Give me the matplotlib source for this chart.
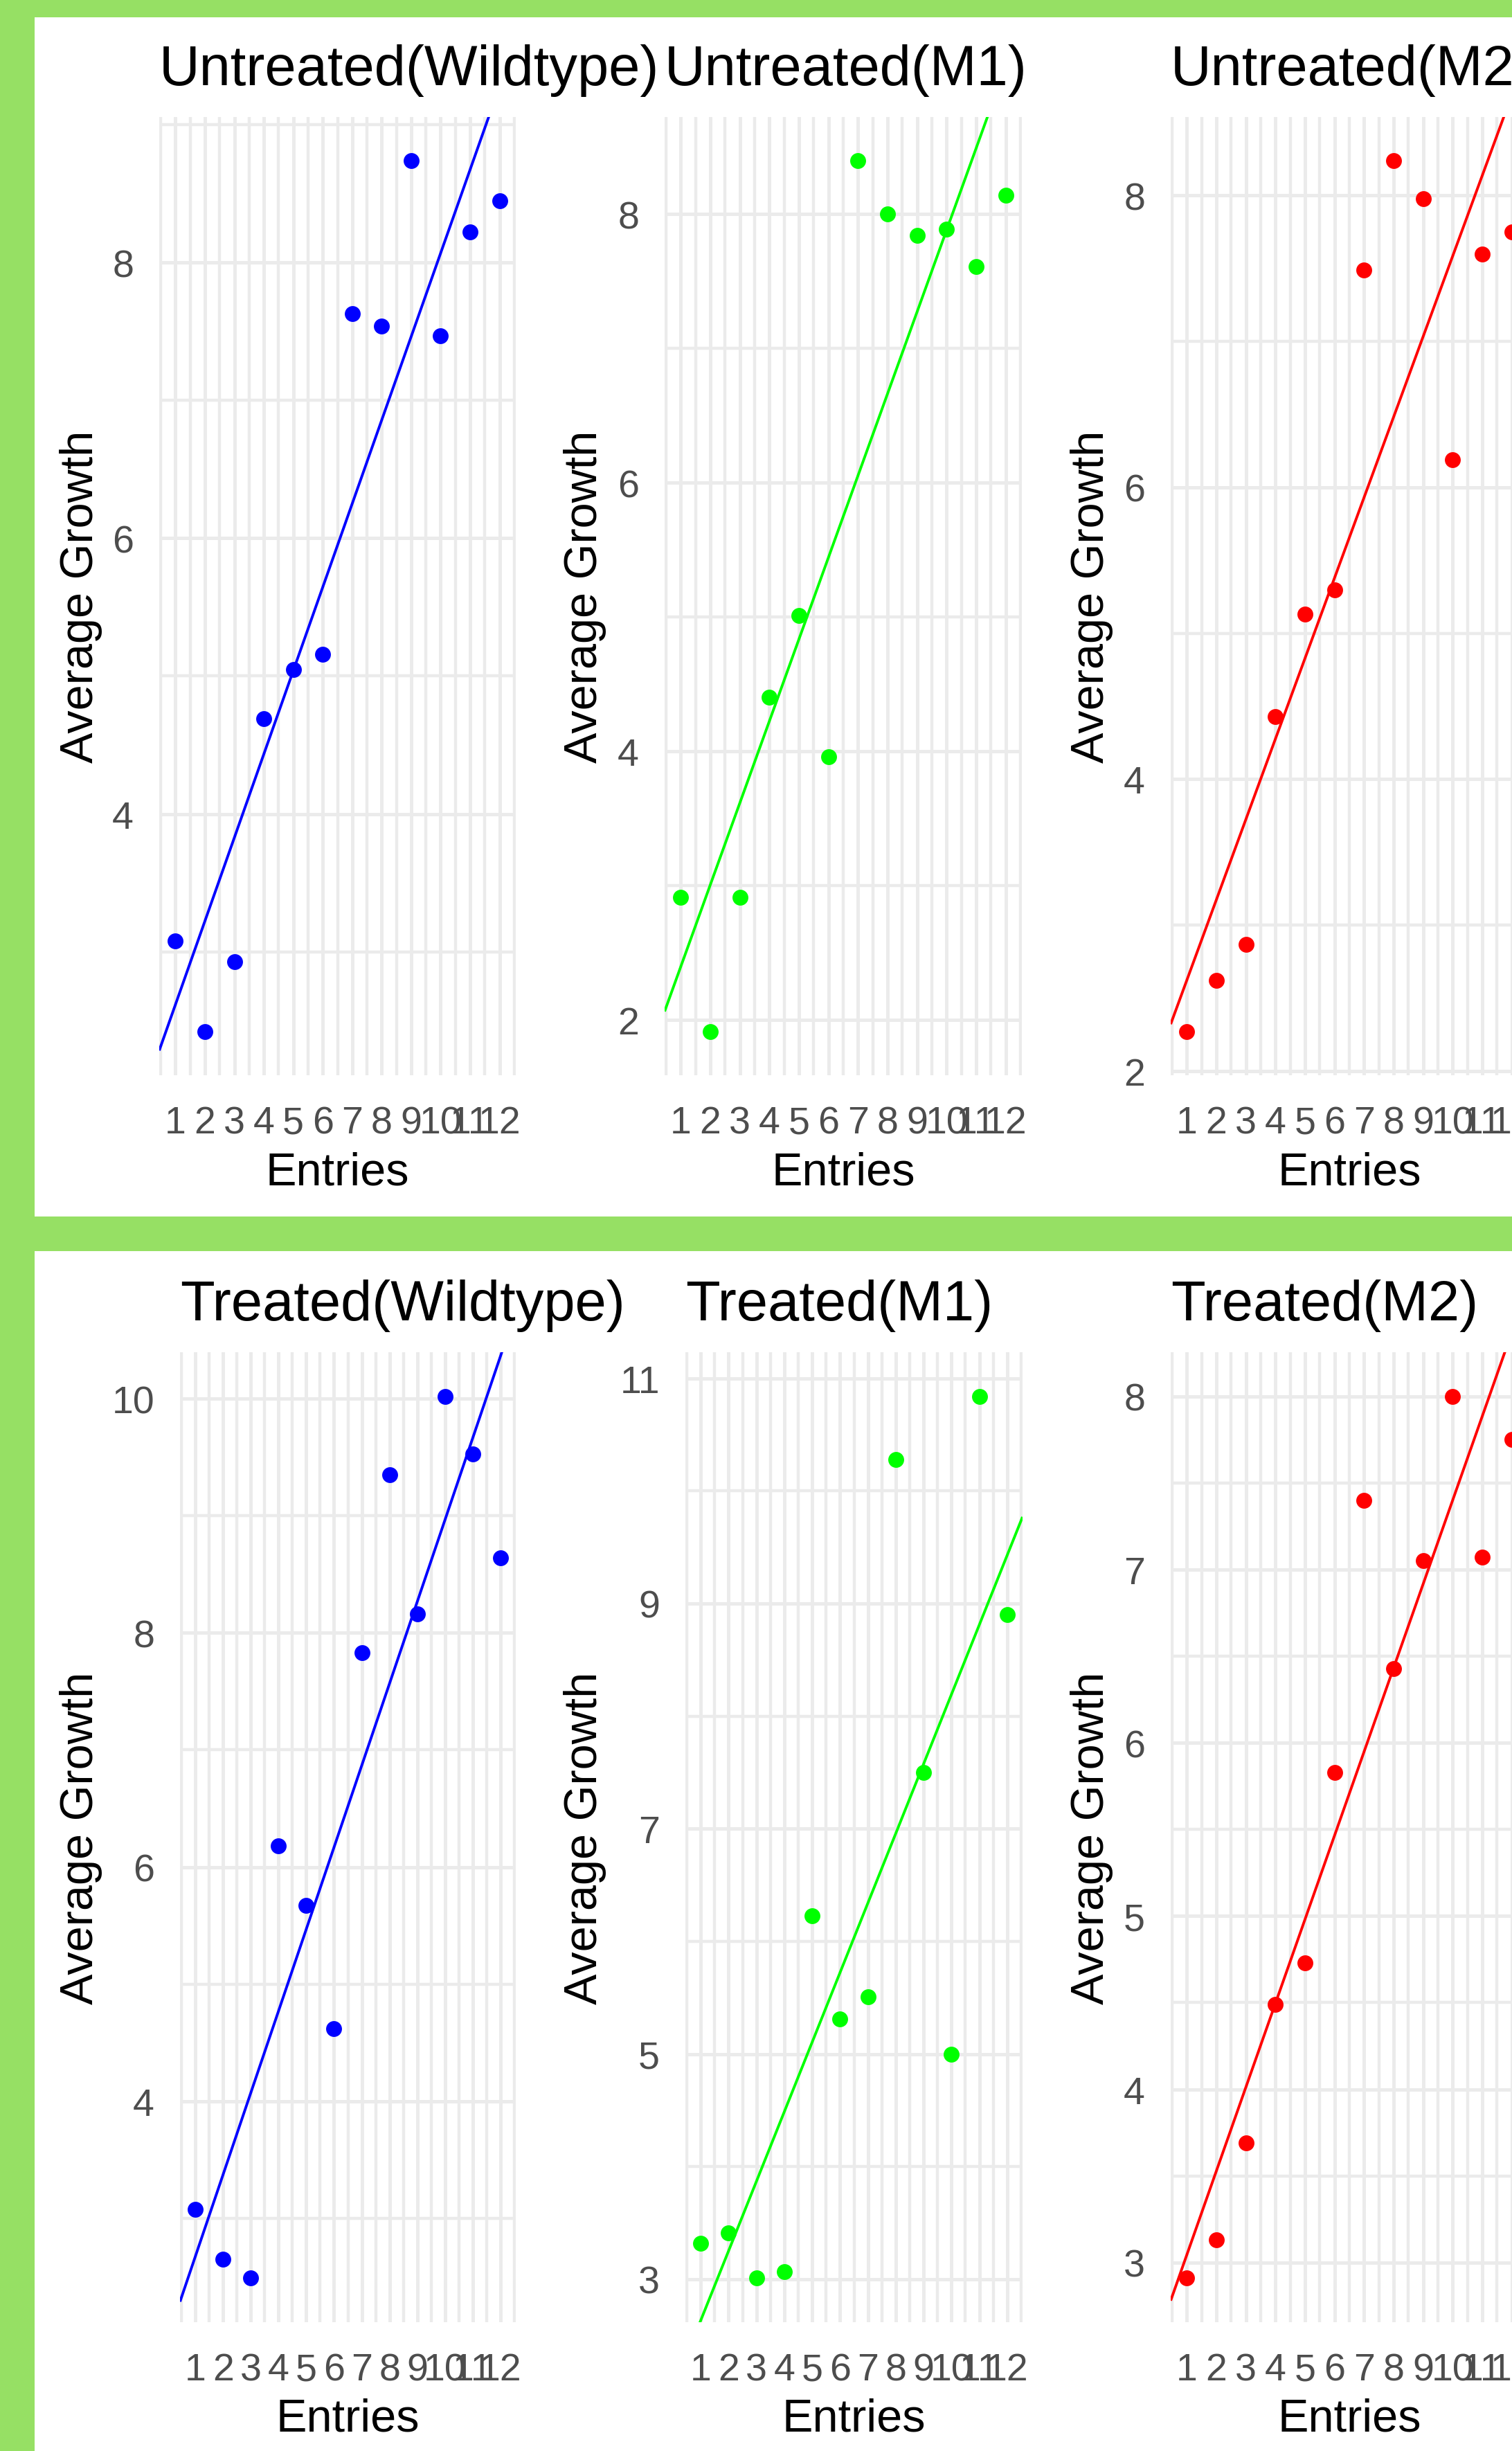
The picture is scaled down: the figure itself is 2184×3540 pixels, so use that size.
import matplotlib
matplotlib.use('Agg')
import matplotlib.pyplot as plt
import numpy as np
from matplotlib.ticker import FixedLocator, MultipleLocator
from matplotlib.patches import Rectangle

plt.rcParams['font.family'] = ['Liberation Sans', 'DejaVu Sans']

# ---------------- data ----------------
entries = [1, 2, 3, 4, 5, 6, 7, 8, 9, 10, 11, 12]
untreated_wildtype = [3.08, 2.42, 2.93, 4.69, 5.05, 5.16, 7.63, 7.54, 8.74, 7.47, 8.22, 8.45]
untreated_m1 = [2.91, 1.91, 2.91, 4.40, 5.01, 3.96, 8.40, 8.00, 7.84, 7.89, 7.61, 8.14]
untreated_m2 = [2.27, 2.62, 2.87, 4.43, 5.13, 5.30, 7.49, 8.24, 7.98, 6.19, 7.60, 7.75]
treated_wildtype = [3.08, 2.65, 2.49, 6.18, 5.67, 4.62, 7.83, 9.35, 8.16, 10.02, 9.53, 8.64]
treated_m1 = [3.32, 3.41, 3.01, 3.07, 6.23, 5.31, 5.51, 10.28, 7.50, 5.00, 10.84, 8.90]
treated_m2 = [2.91, 3.13, 3.69, 4.49, 4.73, 5.83, 7.40, 6.43, 7.05, 8.00, 7.07, 7.75]

titles = ["Untreated(Wildtype)", "Untreated(M1)", "Untreated(M2)",
          "Treated(Wildtype)", "Treated(M1)", "Treated(M2)"]
series = [untreated_wildtype, untreated_m1, untreated_m2,
          treated_wildtype, treated_m1, treated_m2]
x_label = "Entries"
y_label = "Average Growth"

# ---------------- style / layout ----------------
W, H = 2184, 3541
GREEN_BG = '#96E064'
colors = ['#0000FF', '#00FF00', '#FF0000', '#0000FF', '#00FF00', '#FF0000']
y_steps = [2, 2, 2, 2, 2, 1]
y_offsets = [0, 0, 0, 0, 1, 0]
GRID = '#EBEBEB'
TICK_COL = '#4D4D4D'

# panel boxes in pixels (x0, y0, x1, y1), y measured from top
row_y = [(170, 1554), (1954, 3355)]
col_x = [[(230, 745), (960, 1476), (1691, 2207)],
         [(260, 745), (990, 1477), (1691, 2207)]]
ylab_x = [117, 845, 1577]

fig = plt.figure(figsize=(W / 100, H / 100), dpi=100)
fig.patch.set_facecolor(GREEN_BG)

def fx(x):
    return x / W

def fy(y):
    return 1 - y / H

# white screenshot panels
for (top, bot) in [(26, 1758), (1808, H)]:
    fig.add_artist(Rectangle((fx(50), fy(bot)), (W - 50) / W, (bot - top) / H,
                             transform=fig.transFigure, facecolor='white',
                             edgecolor='none', zorder=-5))

x = np.array(entries, dtype=float)
for i in range(6):
    r, c = divmod(i, 3)
    y0, y1 = row_y[r]
    x0, x1 = col_x[r][c]
    ax = fig.add_axes([fx(x0), fy(y1), (x1 - x0) / W, (y1 - y0) / H])
    ax.set_facecolor('white')
    y = np.array(series[i], dtype=float)

    # ggplot-like 5% expansion
    xr = x.max() - x.min()
    yr = y.max() - y.min()
    xlim = (x.min() - 0.05 * xr, x.max() + 0.05 * xr)
    ylim = (y.min() - 0.05 * yr, y.max() + 0.05 * yr)

    # grid
    ax.xaxis.set_major_locator(FixedLocator(entries))
    ax.xaxis.set_minor_locator(MultipleLocator(0.5))
    ax.yaxis.set_major_locator(MultipleLocator(y_steps[i], offset=y_offsets[i]))
    ax.yaxis.set_minor_locator(MultipleLocator(y_steps[i] / 2))
    ax.grid(True, which='major', color=GRID, lw=3.6, zorder=0)
    ax.grid(True, which='minor', color=GRID, lw=3.2, zorder=0)
    ax.set_axisbelow(True)

    # regression line over full range
    slope, intercept = np.polyfit(x, y, 1)
    xs = np.array(xlim)
    ax.plot(xs, intercept + slope * xs, color=colors[i], lw=2.8, zorder=2,
            solid_capstyle='butt')
    ax.plot(x, y, 'o', color=colors[i], markersize=16.5, markeredgewidth=0, zorder=3)

    ax.set_xlim(xlim)
    ax.set_ylim(ylim)
    for s in ax.spines.values():
        s.set_visible(False)
    ax.tick_params(which='both', length=0)
    ax.tick_params(axis='x', labelsize=40, labelcolor=TICK_COL, pad=31)
    ax.tick_params(axis='y', labelsize=40, labelcolor=TICK_COL, pad=26.6)

    # titles & axis labels
    fig.text(fx(x0), fy(y0 - 47), titles[i], ha='left', va='baseline',
             fontsize=58.5, color='black')
    fig.text(fx((x0 + x1) / 2), fy(y1 + 157), x_label, ha='center', va='baseline',
             fontsize=48, color='black')
    fig.text(fx(ylab_x[c]), fy((y0 + y1) / 2), y_label, ha='center', va='center',
             rotation=90, fontsize=48, color='black')

fig.savefig('out.png', dpi=100, facecolor=fig.get_facecolor())
